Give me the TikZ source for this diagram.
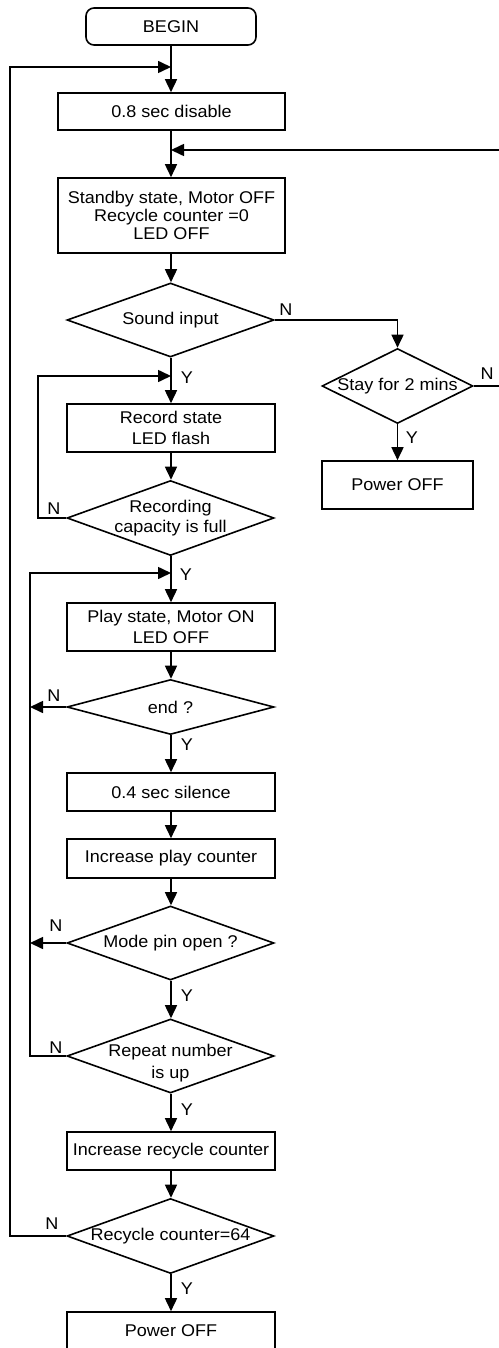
\documentclass[tikz,border=0pt]{standalone}
\usepackage{fontspec}
\setmainfont{Liberation Sans}[FakeStretch=1.06]
\usetikzlibrary{arrows.meta,shapes.geometric}
\begin{document}
\begin{tikzpicture}[x=1pt,y=-1pt,
  line width=1.6pt,
  every node/.style={font=\fontsize{17}{21}\selectfont},
  procbox/.style={draw,rectangle,inner sep=0pt,align=center,minimum width=#1},
  procbox/.default=208pt,
  decbox/.style={draw,diamond,inner sep=0pt,aspect=2.8,minimum width=#1},
  decbox/.default=207pt,
  termbox/.style={draw,rectangle,rounded corners=8pt,inner sep=0pt,minimum width=170pt,minimum height=37pt},
  arr/.style={-{Triangle[length=13pt,width=12pt]}},
  lbl/.style={inner sep=0pt}
]
\useasboundingbox (0,0) rectangle (498,1348);

% nodes
\node[termbox] (begin) at (171,26.5) {BEGIN};
\node[procbox=227pt,minimum height=37pt] (disable) at (171.5,111.5) {0.8 sec disable};
\node[procbox=227pt,minimum height=75pt,font=\fontsize{17}{18}\selectfont] (standby) at (171.5,215.5) {Standby state, Motor OFF\\Recycle counter =0\\LED OFF};
\node[decbox,minimum height=74pt] (sound) at (170.5,320) {\makebox[0pt]{Sound input}};
\node[decbox=151pt,minimum height=75pt] (stay) at (397.5,386) {\makebox[0pt]{Stay for 2 mins}};
\node[procbox=151pt,minimum height=48pt] (poweroffA) at (397.5,485) {Power OFF};
\node[procbox,minimum height=48pt] (record) at (171,428) {Record state\\LED flash};
\node[decbox,minimum height=75pt] (full) at (170.5,518) {\makebox[0pt]{\begin{tabular}{@{}c@{}}Recording\\[-1pt]capacity is full\end{tabular}}};
\node[procbox,minimum height=48pt] (play) at (171,627) {Play state, Motor ON\\LED OFF};
\node[decbox,minimum height=55pt] (endq) at (170.5,707) {\makebox[0pt]{end ?}};
\node[procbox,minimum height=38pt] (silence) at (171,792) {0.4 sec silence};
\node[procbox,minimum height=39pt] (incplay) at (171,858.5) {Increase play counter};
\node[decbox,minimum height=74pt] (mode) at (170.5,943) {\makebox[0pt]{Mode pin open ?}};
\node[decbox,minimum height=74pt] (repeat) at (170.5,1056) {\makebox[0pt]{\begin{tabular}{@{}c@{}}\rule{0pt}{29pt}Repeat number\\[1pt]is up\end{tabular}}};
\node[procbox,minimum height=38pt] (increc) at (171,1151) {Increase recycle counter};
\node[decbox,minimum height=75pt] (recyc) at (170.5,1236) {\makebox[0pt]{Recycle counter=64}};
\node[procbox,minimum height=38pt] (poweroffB) at (171,1331) {Power OFF};

% junction coordinates on the main line
\coordinate (jtop) at (171,67);
\coordinate (jright) at (171,150);
\coordinate (jrec) at (171,376);
\coordinate (jplay) at (171,573);
\coordinate (outerL) at (10,1236);
\coordinate (innerL) at (30,1056);
\coordinate (recL) at (38,518);
\coordinate (farR) at (506,386);

% main flow
\draw[arr] (begin.south) -- (disable.north -| begin.south);
\draw[arr] (disable.south -| jright) -- (standby.north -| jright);
\draw[arr] (standby.south -| jright) -- (sound.north -| jright);
\draw[arr] (sound.south -| jright) -- (record.north -| jright);
\draw[arr] (record.south -| jright) -- (full.north -| jright);
\draw[arr] (full.south -| jright) -- (play.north -| jright);
\draw[arr] (play.south -| jright) -- (endq.north -| jright);
\draw[arr] (endq.south -| jright) -- (silence.north -| jright);
\draw[arr] (silence.south -| jright) -- (incplay.north -| jright);
\draw[arr] (incplay.south -| jright) -- (mode.north -| jright);
\draw[arr] (mode.south -| jright) -- (repeat.north -| jright);
\draw[arr] (repeat.south -| jright) -- (increc.north -| jright);
\draw[arr] (increc.south -| jright) -- (recyc.north -| jright);
\draw[arr] (recyc.south -| jright) -- (poweroffB.north -| jright);

% right branch
\draw[arr] (sound.east) -| (stay.north);
\draw[arr] (stay.south) -- (poweroffA.north);
\draw[arr] (stay.east) -- (farR) |- (jright);

% loops
\draw[arr] (full.west) -- (recL) |- (jrec);
\draw[arr] (endq.west) -- (endq.west -| innerL);
\draw[arr] (mode.west) -- (mode.west -| innerL);
\draw[arr] (repeat.west) -- (innerL) |- (jplay);
\draw[arr] (recyc.west) -- (outerL) |- (jtop);

% labels
\node[lbl] (lN1) at (286,310) {N};
\node[lbl] (lY1) at (187,378) {Y};
\node[lbl] (lN2) at (487,374) {N};
\node[lbl] (lY2) at (412,438) {Y};
\node[lbl] (lN3) at (54,509) {N};
\node[lbl] (lY3) at (186,575) {Y};
\node[lbl] (lN4) at (54,696) {N};
\node[lbl] (lY4) at (187,745) {Y};
\node[lbl] (lN5) at (56,926) {N};
\node[lbl] (lY5) at (187,996) {Y};
\node[lbl] (lN6) at (56,1048) {N};
\node[lbl] (lY6) at (187,1110) {Y};
\node[lbl] (lN7) at (52,1224) {N};
\node[lbl] (lY7) at (187,1289) {Y};
\end{tikzpicture}
\end{document}
